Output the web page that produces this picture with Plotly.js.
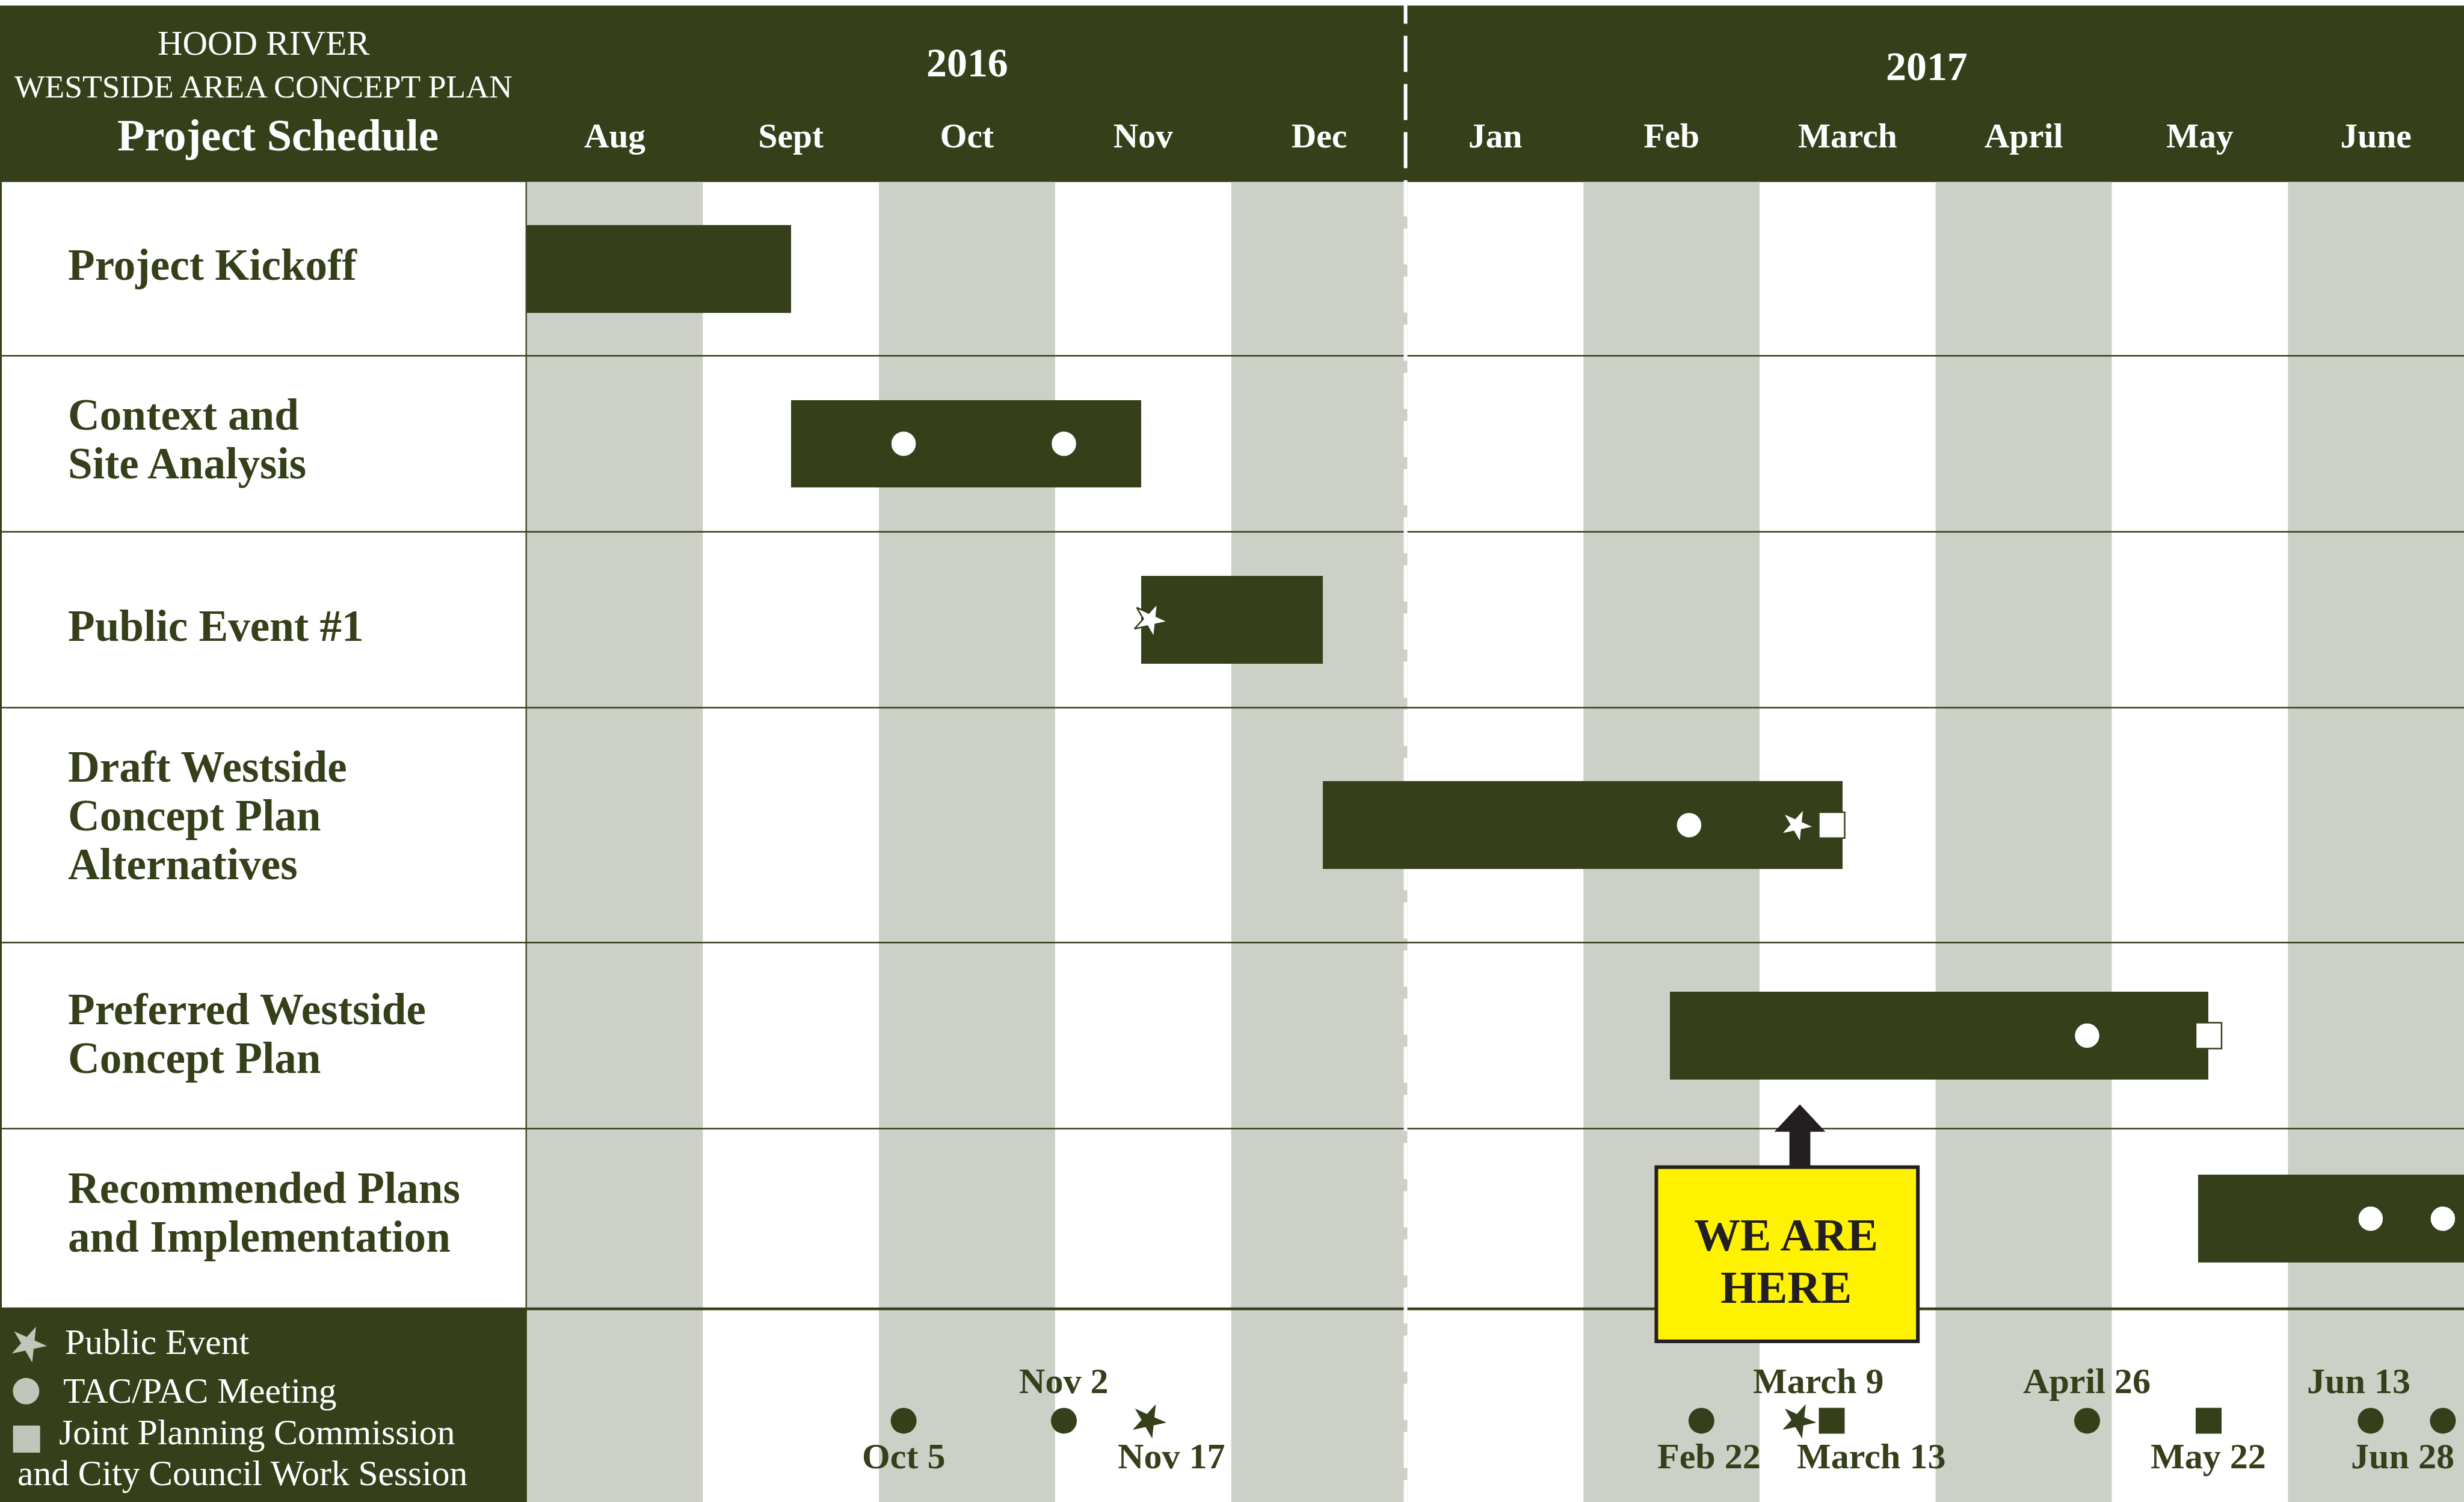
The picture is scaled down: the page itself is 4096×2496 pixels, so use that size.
<!DOCTYPE html>
<html>
<head>
<meta charset="utf-8">
<script src="https://cdn.plot.ly/plotly-3.0.1.min.js"></script>
<style>
html,body{margin:0;padding:0;background:#ffffff;}
#chart{width:4096px;height:2496px;}
</style>
</head>
<body>
<div id="chart"></div>
<script>
// ================= DATA =================
const months = ["Aug", "Sept", "Oct", "Nov", "Dec", "Jan", "Feb", "March", "April", "May", "June"];
const years = ["2016", "2017"];
const tasks = [
  "Project Kickoff",
  "Context and<br>Site Analysis",
  "Public Event #1",
  "Draft Westside<br>Concept Plan<br>Alternatives",
  "Preferred Westside<br>Concept Plan",
  "Recommended Plans<br>and Implementation"
];
// bar start / end, in months counted from 1 Aug 2016
const taskStart = [0, 1.5, 3.49, 4.52, 6.49, 9.49];
const taskEnd   = [1.5, 3.49, 4.52, 7.47, 9.55, 11];

// milestones drawn inside the bars
const msTask = [1, 1, 2, 3, 3, 3, 4, 4, 5, 5];
const msPos  = [2.14, 3.05, 3.54, 6.60, 7.21, 7.41, 8.86, 9.55, 10.47, 10.88];
const msType = ["meeting", "meeting", "event", "meeting", "event", "joint", "meeting", "joint", "meeting", "meeting"];

// dated milestones along the bottom strip
const evLabel = ["Oct 5", "Nov 2", "Nov 17", "Feb 22", "March 9", "March 13", "April 26", "May 22", "Jun 13", "Jun 28"];
const evPos   = [2.14, 3.05, 3.53, 6.67, 7.22, 7.41, 8.86, 9.55, 10.47, 10.88];
const evType  = ["meeting", "meeting", "event", "meeting", "event", "joint", "meeting", "joint", "meeting", "meeting"];

// legend
const legendTypes = ["event", "meeting", "joint"];
const legendText = ["Public Event", "TAC/PAC Meeting", "Joint Planning Commission", "and City Council Work Session"];

// ================= LAYOUT CONSTANTS (reference units: 1568 px wide) =================
const S = 4096 / 1568;
const REF_H = 2496 / S;
const LEFT_W = 335.2;
const LEFT_FR = LEFT_W / 1568;
const MONTH_W = (1568 - LEFT_W) / 11;
const HEADER = [3.5, 115.8];
const ROW_EDGES = [115.8, 226.3, 338.3, 450.2, 599.6, 718, 832.6];
const ROW_LABEL_DY = [-2.4, -2.7, 4.2, -6.1, -1.1, -3.8];
const BAR_H = 55.8;
const ROW_FONT = 28;
const LINE_H = 31;
const MARK_Y = 903.8;
const EV_SIDE = ["below", "above", "below", "below", "above", "below", "above", "below", "above", "below"];
const EV_NUDGE = [0, 0, 14.8, 5, 12.8, 25.3, 0, 0, -7.7, -25.5];
const YEAR_POS = [[2.5, 40], [7.95, 42]];
const LEG_ICON = [[18, 855], [16.6, 885], [16.9, 915.5]];
const LEG_TEXT = [[41, 853.8], [40, 884.6], [37, 911.2], [10.9, 937.1]];
const CALLOUT = {x0: 6.414, x1: 7.899, y0: 742.5, y1: 853.3, ax: 7.229, tip: 702.6, headBase: 720,
                 shaftHW: 6.65, headHW: 16.25, l1: 785.4, l2: 818.7, tx: 7.151};

const DARK = "#353f1a";
const GRAY = "#cdd0c7";
const LIGHT = "#ffffff";
const INK = "#231f20";
const YELLOW = "#fff200";
const SERIF = "Liberation Serif, 'DejaVu Serif', serif";
const SYM = {event: "star", meeting: "circle", joint: "square"};
const ANG = {event: 24, meeting: 0, joint: 0};

const rowCenters = [];
for (let i = 0; i < tasks.length; i++) rowCenters.push((ROW_EDGES[i] + ROW_EDGES[i + 1]) / 2);

function font(sizeRef, color, bold) {
  return {family: SERIF, size: sizeRef * S, color: color, weight: bold ? "bold" : "normal"};
}

// ================= TRACES =================
const traces = [];
traces.push({
  type: "bar", orientation: "h",
  y: rowCenters, base: taskStart,
  x: taskEnd.map((e, i) => e - taskStart[i]),
  width: BAR_H,
  marker: {color: DARK, line: {width: 0}},
  hoverinfo: "skip", showlegend: false
});
traces.push({
  type: "scatter", mode: "markers",
  x: msPos, y: msTask.map(i => rowCenters[i]),
  marker: {symbol: msType.map(t => SYM[t]), angle: msType.map(t => ANG[t]), size: 43,
           color: LIGHT, line: {color: DARK, width: 2.5}},
  hoverinfo: "skip", showlegend: false
});
traces.push({
  type: "scatter", mode: "markers",
  x: evPos, y: evPos.map(() => MARK_Y),
  marker: {symbol: evType.map(t => SYM[t]), angle: evType.map(t => ANG[t]), size: 43,
           color: DARK, line: {width: 0}},
  hoverinfo: "skip", showlegend: false, cliponaxis: false
});
traces.push({
  type: "scatter", mode: "markers", xaxis: "x2", yaxis: "y",
  x: LEG_ICON.map(p => p[0]), y: LEG_ICON.map(p => p[1]),
  marker: {symbol: legendTypes.map(t => SYM[t]), angle: legendTypes.map(t => ANG[t]),
           size: [45, 44, 45], color: "#ffffff", line: {width: 0}},
  hoverinfo: "skip", showlegend: false
});

// ================= SHAPES =================
const shapes = [];
// paper-level (lowest)
shapes.push({type: "rect", layer: "below", xref: "paper", yref: "y", x0: 0, x1: 1, y0: HEADER[0], y1: HEADER[1],
             fillcolor: DARK, line: {width: 0}});
shapes.push({type: "rect", layer: "below", xref: "paper", yref: "y", x0: 0, x1: LEFT_FR, y0: ROW_EDGES[6], y1: REF_H + 1,
             fillcolor: DARK, line: {width: 0}});
for (let i = 1; i < ROW_EDGES.length; i++) {
  shapes.push({type: "line", layer: "below", xref: "paper", yref: "y", x0: 0, x1: LEFT_FR, y0: ROW_EDGES[i], y1: ROW_EDGES[i],
               line: {color: DARK, width: i === ROW_EDGES.length - 1 ? 4.5 : 2.5}});
}
shapes.push({type: "line", layer: "below", xref: "paper", yref: "y", x0: 0, x1: 0, y0: HEADER[1], y1: ROW_EDGES[6],
             line: {color: DARK, width: 6}});
shapes.push({type: "line", layer: "below", xref: "paper", yref: "y", x0: LEFT_FR, x1: LEFT_FR, y0: HEADER[1], y1: REF_H,
             line: {color: DARK, width: 4}});
shapes.push({type: "line", layer: "below", xref: "paper", yref: "y", x0: 1, x1: 1, y0: HEADER[1], y1: REF_H,
             line: {color: "#4a4a40", width: 3}});
// subplot level
months.forEach((m, i) => {
  if (i % 2 === 0) {
    shapes.push({type: "rect", layer: "below", xref: "x", yref: "y", x0: i, x1: i + 1, y0: HEADER[1], y1: REF_H + 1,
                 fillcolor: GRAY, line: {width: 0}});
  }
});
for (let i = 1; i < ROW_EDGES.length; i++) {
  shapes.push({type: "line", layer: "below", xref: "x", yref: "y", x0: 0, x1: 11, y0: ROW_EDGES[i], y1: ROW_EDGES[i],
               line: {color: DARK, width: i === ROW_EDGES.length - 1 ? 4.5 : 2.5}});
}
// dashed year divider (Dec / Jan)
shapes.push({type: "line", layer: "below", xref: "x", yref: "y", x0: 4.99, x1: 4.99, y0: -7.8, y1: REF_H + 2,
             line: {color: "#ffffff", width: 6, dash: "60px,20px"}});
// "we are here" callout
shapes.push({type: "rect", layer: "above", xref: "x", yref: "y", x0: CALLOUT.x0, x1: CALLOUT.x1, y0: CALLOUT.y0, y1: CALLOUT.y1,
             fillcolor: YELLOW, line: {color: INK, width: 6}});
(function () {
  const c = CALLOUT, sw = c.shaftHW / MONTH_W, hw = c.headHW / MONTH_W;
  const p = [[c.ax - sw, c.y0], [c.ax - sw, c.headBase], [c.ax - hw, c.headBase], [c.ax, c.tip],
             [c.ax + hw, c.headBase], [c.ax + sw, c.headBase], [c.ax + sw, c.y0]];
  shapes.push({type: "path", layer: "above", xref: "x", yref: "y",
               path: "M" + p.map(q => q[0] + "," + q[1]).join(" L") + " Z",
               fillcolor: INK, line: {width: 0}});
})();

// ================= ANNOTATIONS =================
const ann = [];
function txt(o) { ann.push(Object.assign({showarrow: false, xanchor: "center", yanchor: "middle", borderpad: 0}, o)); }

txt({xref: "paper", yref: "y", x: 168 / 1568, y: 27.5, text: "HOOD RIVER", font: font(22, "#ffffff", false)});
txt({xref: "paper", yref: "y", x: 167.5 / 1568, y: 55.2, text: "WESTSIDE AREA CONCEPT PLAN", font: font(20.5, "#ffffff", false)});
txt({xref: "paper", yref: "y", x: 176.8 / 1568, y: 86.1, text: "Project Schedule", font: font(28.5, "#ffffff", true)});
years.forEach((y, i) => txt({xref: "x", yref: "y", x: YEAR_POS[i][0], y: YEAR_POS[i][1], text: y, font: font(26, "#ffffff", true)}));

tasks.forEach((t, i) => {
  const lines = t.split("<br>");
  const c = rowCenters[i] + ROW_LABEL_DY[i];
  lines.forEach((ln, j) => {
    txt({xref: "paper", yref: "y", x: 43 / 1568, xanchor: "left", y: c + (j - (lines.length - 1) / 2) * LINE_H,
         text: ln, font: font(ROW_FONT, DARK, true)});
  });
});

legendText.forEach((t, i) => {
  txt({xref: "paper", yref: "y", x: LEG_TEXT[i][0] / 1568, xanchor: "left", y: LEG_TEXT[i][1], text: t,
       font: font(22.8, "#ffffff", false)});
});

evLabel.forEach((t, i) => {
  txt({xref: "x", yref: "y", x: evPos[i], xshift: EV_NUDGE[i] * S,
       y: MARK_Y + (EV_SIDE[i] === "above" ? -25.5 : 22.3), text: t, font: font(23, DARK, true)});
});

txt({xref: "x", yref: "y", x: CALLOUT.tx, y: CALLOUT.l1, text: "WE ARE", font: font(29.5, INK, true)});
txt({xref: "x", yref: "y", x: CALLOUT.tx, y: CALLOUT.l2, text: "HERE", font: font(29.5, INK, true)});

// ================= LAYOUT =================
const layout = {
  width: 4096, height: 2496,
  margin: {l: 0, r: 0, t: 0, b: 0, pad: 0},
  paper_bgcolor: "#ffffff", plot_bgcolor: "rgba(0,0,0,0)",
  showlegend: false,
  bargap: 0,
  xaxis: {
    domain: [LEFT_FR, 1], range: [0, 11], anchor: "free", position: (REF_H - HEADER[1]) / REF_H, side: "top",
    tickmode: "array", tickvals: months.map((m, i) => i + 0.5), ticktext: months,
    tickfont: font(22, "#ffffff", true), ticks: "", showline: false, showgrid: false, zeroline: false,
    ticklabelstandoff: 46, fixedrange: true
  },
  xaxis2: {domain: [0, LEFT_FR], range: [0, LEFT_W], anchor: "y", visible: false, fixedrange: true},
  yaxis: {domain: [0, 1], range: [REF_H, 0], visible: false, showgrid: false, zeroline: false, fixedrange: true},
  shapes: shapes,
  annotations: ann
};

Plotly.newPlot("chart", traces, layout, {displayModeBar: false, staticPlot: true});
</script>
</body>
</html>
